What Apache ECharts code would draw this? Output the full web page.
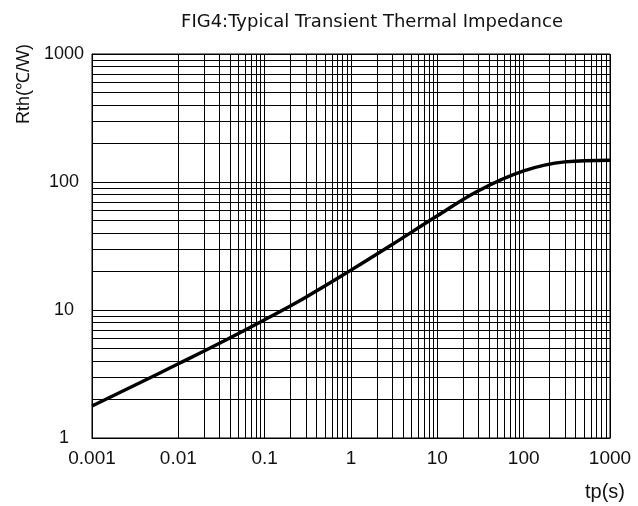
<!DOCTYPE html>
<html>
<head>
<meta charset="utf-8">
<script src="https://cdn.jsdelivr.net/npm/echarts@6/dist/echarts.min.js"></script>
<style>
html,body{margin:0;padding:0;background:#fff;}
#chart{width:638px;height:506px;}
</style>
</head>
<body>
<div id="chart"></div>
<script>
// Data
const tp  = [0.001, 0.003, 0.01, 0.03, 0.1, 0.3, 1, 3, 10, 30, 100, 300, 1000];
const rth = [1.78, 2.55, 3.8, 5.5, 8.4, 12.6, 20.5, 32.5, 54.5, 85.5, 122, 143.5, 148];

const xTickLabels = ['0.001', '0.01', '0.1', '1', '10', '100', '1000'];
const yTickLabels = ['1', '10', '100', '1000'];
const xDecades = [0.001, 0.01, 0.1, 1, 10, 100];
const yDecades = [1, 10, 100];
const minorMultipliers = [2, 3, 4, 5, 6, 7, 8, 9];

const xMinor = [];
xDecades.forEach(d => minorMultipliers.forEach(m => xMinor.push(+(d * m).toPrecision(6))));
const yMinor = [];
yDecades.forEach(d => minorMultipliers.forEach(m => yMinor.push(+(d * m).toPrecision(6))));

const seriesData = tp.map((t, i) => [t, rth[i]]);

const chart = echarts.init(document.getElementById('chart'), null, {renderer: 'canvas'});
const font = '"Liberation Sans", Arial, sans-serif';
const wideFont = '"DejaVu Sans", "Liberation Sans", sans-serif';

chart.setOption({
  animation: false,
  backgroundColor: '#fff',
  title: {
    text: 'FIG4:Typical Transient Thermal Impedance',
    left: 367, top: 8, textAlign: 'center',
    textStyle: {fontFamily: wideFont, fontSize: 18, fontWeight: 'normal', color: '#111'}
  },
  graphic: [{
    type: 'text', x: 24, y: 84, rotation: Math.PI / 2,
    style: {text: 'Rth(℃/W)', fontFamily: font, fontSize: 18, fill: '#111', align: 'center', verticalAlign: 'middle'}
  }, {
    type: 'text', x: 625, y: 492,
    style: {text: 'tp(s)', fontFamily: font, fontSize: 20, fill: '#111', align: 'right', verticalAlign: 'middle'}
  }],
  grid: {left: 92, right: 28, top: 54, bottom: 68, show: true, borderColor: '#000', borderWidth: 1},
  xAxis: {
    type: 'log', logBase: 10, min: 0.001, max: 1000, interval: 1,
    axisLine: {show: true, lineStyle: {color: '#000', width: 1}},
    axisTick: {show: false},
    axisLabel: {
      margin: 11, fontFamily: font, fontSize: 19, color: '#111',
      formatter: v => xTickLabels[Math.round(Math.log10(v)) + 3]
    },
    splitLine: {show: true, lineStyle: {color: '#000', width: 1}}
  },
  yAxis: {
    type: 'log', logBase: 10, min: 1, max: 1000, interval: 1,
    axisLine: {show: true, lineStyle: {color: '#000', width: 1}},
    axisTick: {show: false},
    axisLabel: {
      margin: 28, align: 'center', fontFamily: font, fontSize: 18, color: '#111',
      formatter: v => yTickLabels[Math.round(Math.log10(v))]
    },
    splitLine: {show: true, lineStyle: {color: '#000', width: 1}}
  },
  series: [{
    type: 'line',
    data: seriesData,
    smooth: 0.4,
    showSymbol: false,
    symbol: 'none',
    lineStyle: {color: '#000', width: 3.4},
    silent: true,
    z: 5,
    markLine: {
      silent: true,
      symbol: ['none', 'none'],
      label: {show: false},
      animation: false,
      lineStyle: {color: '#000', width: 1, type: 'solid'},
      data: xMinor.map(v => ({xAxis: v})).concat(yMinor.map(v => ({yAxis: v})))
    }
  }]
});
</script>
</body>
</html>
